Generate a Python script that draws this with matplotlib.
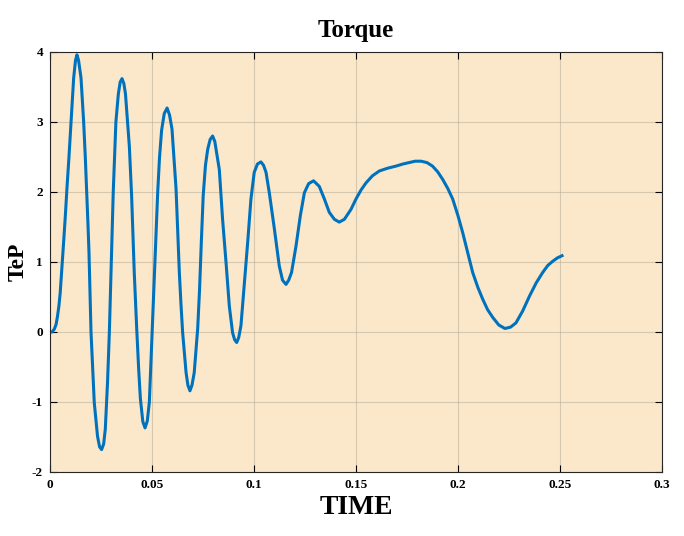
import matplotlib
matplotlib.use('Agg')
import matplotlib.pyplot as plt

# values
time = [0.0000, 0.0010, 0.0021, 0.0030, 0.0037, 0.0044, 0.0050, 0.0058, 0.0066, 0.0075,
        0.0083, 0.0093, 0.0103, 0.0116, 0.0125, 0.0132, 0.0140, 0.0152, 0.0165, 0.0173,
        0.0180, 0.0186, 0.0191, 0.0201, 0.0217, 0.0233, 0.0243, 0.0253, 0.0263, 0.0271,
        0.0282, 0.0291, 0.0302, 0.0310, 0.0323, 0.0335, 0.0344, 0.0353, 0.0362, 0.0370,
        0.0380, 0.0389, 0.0400, 0.0413, 0.0425, 0.0435, 0.0443, 0.0455, 0.0466, 0.0477,
        0.0487, 0.0500, 0.0511, 0.0520, 0.0528, 0.0537, 0.0547, 0.0560, 0.0574, 0.0586,
        0.0598, 0.0618, 0.0634, 0.0642, 0.0650, 0.0667, 0.0676, 0.0686, 0.0696, 0.0707,
        0.0724, 0.0733, 0.0742, 0.0751, 0.0762, 0.0773, 0.0785, 0.0797, 0.0808, 0.0830,
        0.0846, 0.0863, 0.0879, 0.0895, 0.0905, 0.0915, 0.0925, 0.0936, 0.0952, 0.0969,
        0.0985, 0.1001, 0.1017, 0.1034, 0.1047, 0.1059, 0.1075, 0.1100, 0.1124, 0.1140,
        0.1157, 0.1170, 0.1184, 0.1206, 0.1227, 0.1247, 0.1268, 0.1292, 0.1320, 0.1345,
        0.1369, 0.1394, 0.1418, 0.1443, 0.1475, 0.1500, 0.1525, 0.1549, 0.1580, 0.1614,
        0.1655, 0.1696, 0.1730, 0.1761, 0.1790, 0.1819, 0.1848, 0.1875, 0.1900, 0.1925,
        0.1950, 0.1974, 0.2000, 0.2023, 0.2048, 0.2072, 0.2097, 0.2121, 0.2145, 0.2170,
        0.2200, 0.2230, 0.2258, 0.2284, 0.2317, 0.2350, 0.2383, 0.2415, 0.2440, 0.2464,
        0.2488, 0.2510]
torque = [0.00, 0.00, 0.04, 0.11, 0.23, 0.38, 0.56, 0.90, 1.25, 1.65,
          2.05, 2.50, 3.00, 3.63, 3.88, 3.96, 3.88, 3.63, 3.00, 2.50,
          2.00, 1.55, 1.15, 0.00, -1.01, -1.49, -1.64, -1.68, -1.60, -1.39,
          -0.72, 0.00, 1.15, 2.00, 3.00, 3.40, 3.57, 3.62, 3.55, 3.40,
          3.00, 2.65, 1.95, 0.85, 0.05, -0.55, -0.95, -1.28, -1.37, -1.27,
          -1.00, -0.05, 0.75, 1.45, 2.00, 2.50, 2.88, 3.12, 3.20, 3.10,
          2.90, 2.04, 0.85, 0.40, 0.00, -0.58, -0.76, -0.84, -0.76, -0.58,
          0.05, 0.60, 1.30, 1.95, 2.38, 2.61, 2.75, 2.80, 2.72, 2.32,
          1.61, 0.99, 0.37, -0.01, -0.11, -0.15, -0.08, 0.09, 0.66, 1.28,
          1.90, 2.28, 2.40, 2.43, 2.38, 2.28, 1.99, 1.47, 0.94, 0.74,
          0.68, 0.74, 0.85, 1.23, 1.66, 1.99, 2.12, 2.16, 2.08, 1.90,
          1.71, 1.61, 1.57, 1.61, 1.75, 1.90, 2.03, 2.13, 2.23, 2.30,
          2.34, 2.37, 2.40, 2.42, 2.44, 2.44, 2.42, 2.37, 2.29, 2.18,
          2.05, 1.90, 1.66, 1.42, 1.13, 0.85, 0.64, 0.47, 0.32, 0.21,
          0.10, 0.05, 0.07, 0.13, 0.30, 0.51, 0.70, 0.85, 0.95, 1.01,
          1.06, 1.09]

serif = ['Liberation Serif', 'DejaVu Serif']

fig = plt.figure(figsize=(6.84, 5.36), dpi=100)
ax = fig.add_axes([50 / 684, 64 / 536, 612 / 684, 420 / 536])
ax.set_facecolor('#fbe8ca')

ax.plot(time, torque, color='#0072bd', linewidth=2.2, solid_joinstyle='round')

ax.set_xlim(0, 0.3)
ax.set_ylim(-2, 4)
ax.set_xticks([0, 0.05, 0.1, 0.15, 0.2, 0.25, 0.3])
ax.set_xticklabels(['0', '0.05', '0.1', '0.15', '0.2', '0.25', '0.3'])
ax.set_yticks([-2, -1, 0, 1, 2, 3, 4])
ax.set_yticklabels(['-2', '-1', '0', '1', '2', '3', '4'])
ax.grid(True, color='#b8ad9a', alpha=0.55, linewidth=0.8)

ax.tick_params(direction='in', top=True, right=True, length=5, width=0.8, pad=5)
for lab in ax.get_xticklabels() + ax.get_yticklabels():
    lab.set_fontfamily(serif)
    lab.set_fontweight('bold')
    lab.set_fontsize(9.5)
for s in ax.spines.values():
    s.set_color('#262626')
    s.set_linewidth(0.8)

ax.set_title('Torque', fontfamily=serif, fontweight='bold', fontsize=18, pad=11)
ax.set_xlabel('TIME', fontfamily=serif, fontweight='bold', fontsize=20, labelpad=3)
ax.set_ylabel('TeP', fontfamily=serif, fontweight='bold', fontsize=17, labelpad=2)

fig.savefig('out.png', dpi=100)
